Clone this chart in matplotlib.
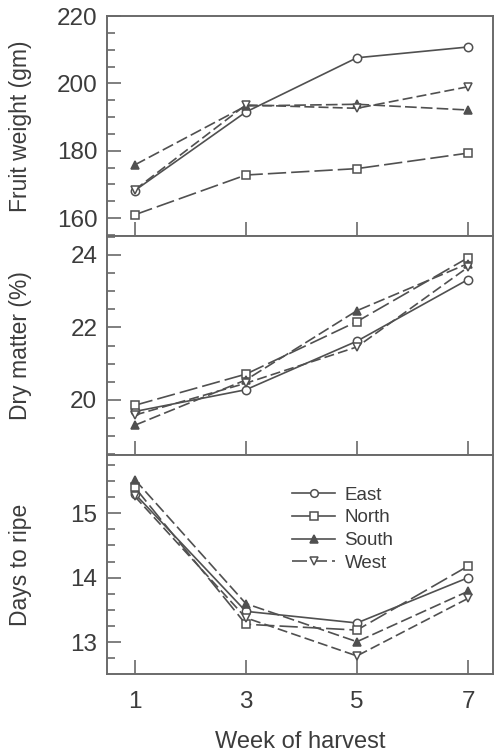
import matplotlib
matplotlib.use("Agg")
import matplotlib.pyplot as plt
from matplotlib.ticker import MultipleLocator
from matplotlib.lines import Line2D

plt.rcParams['font.family'] = ['Liberation Sans', 'DejaVu Sans']

weeks = [1, 3, 5, 7]
sites = ['East', 'North', 'South', 'West']

# fruit weight (gm)
weight = {
    'East':  [168.2, 191.5, 207.6, 210.8],
    'North': [161.0, 172.8, 174.7, 179.3],
    'South': [175.8, 193.3, 193.8, 192.1],
    'West':  [168.4, 193.6, 192.6, 199.0],
}
# dry matter (%)
dry = {
    'East':  [19.68, 20.28, 21.62, 23.32],
    'North': [19.85, 20.71, 22.16, 23.92],
    'South': [19.30, 20.55, 22.46, 23.76],
    'West':  [19.58, 20.46, 21.46, 23.66],
}
# days to ripe
days = {
    'East':  [15.30, 13.48, 13.30, 14.00],
    'North': [15.40, 13.28, 13.19, 14.18],
    'South': [15.52, 13.60, 13.01, 13.79],
    'West':  [15.26, 13.38, 12.79, 13.68],
}

line_col = '#505050'
text_col = '#3c3c3c'
spine_col = '#6a6a6a'

styles = {
    'East':  dict(marker='o', mfc='white', ls='-'),
    'North': dict(marker='s', mfc='white', ls=(0, (11, 3))),
    'South': dict(marker='^', mfc=line_col, ls=(0, (7, 2.5))),
    'West':  dict(marker='v', mfc='white', ls=(0, (6, 2.5))),
}
# the legend samples are short: only West shows a gap there
legend_ls = {'East': '-', 'North': '-', 'South': '-', 'West': (0, (9, 3))}

fig = plt.figure(figsize=(5.01, 7.54), dpi=100)
L, W = 107 / 501, 386 / 501
H = 754
panels = [
    (weight, 'Fruit weight (gm)', (154.7, 220), 20, 5, 16, 236),
    (dry, 'Dry matter (%)', (18.48, 24.52), 2, 0.5, 236, 455),
    (days, 'Days to ripe', (12.51, 15.9), 1, 0.25, 455, 674),
]

axes = []
for data, label, ylim, major, minor, top, bot in panels:
    ax = fig.add_axes([L, 1 - bot / H, W, (bot - top) / H])
    for s in sites:
        st = styles[s]
        ax.plot(weeks, data[s], color=line_col, lw=1.2, ls=st['ls'],
                marker=st['marker'], ms=6, mfc=st['mfc'], mec=line_col,
                mew=1.1, label=s)
    ax.set_xlim(0.5, 7.45)
    ax.set_ylim(*ylim)
    ax.yaxis.set_major_locator(MultipleLocator(major))
    ax.yaxis.set_minor_locator(MultipleLocator(minor))
    ax.set_xticks(weeks)
    ax.tick_params(axis='both', which='major', direction='in', length=10,
                   width=1.2, color=spine_col, labelsize=17.5, labelcolor=text_col, pad=7)
    ax.tick_params(axis='y', which='minor', direction='in', length=6,
                   width=1.2, color=spine_col)
    ax.tick_params(axis='x', pad=12)
    for sp in ax.spines.values():
        sp.set_color(spine_col)
        sp.set_linewidth(1.4)
    ax.set_ylabel(label, fontsize=16.5, color=text_col)
    ax.yaxis.set_label_coords(-0.195, 0.5)
    axes.append(ax)

for ax in axes[:-1]:
    ax.tick_params(axis='x', labelbottom=False)

axes[-1].set_xlabel('Week of harvest', fontsize=17, color=text_col, labelpad=13)

handles = [Line2D([], [], color=line_col, lw=1.2, ls=legend_ls[s],
                  marker=styles[s]['marker'], ms=5.5, mfc=styles[s]['mfc'],
                  mec=line_col, mew=1.1) for s in sites]
leg = axes[-1].legend(handles, sites, loc='upper left', bbox_to_anchor=(0.46, 0.89),
                      frameon=False, fontsize=13.5, handlelength=2.3,
                      handletextpad=0.5, labelspacing=0.3, borderaxespad=0)
for t in leg.get_texts():
    t.set_color(text_col)

fig.savefig('out.png', dpi=100)
